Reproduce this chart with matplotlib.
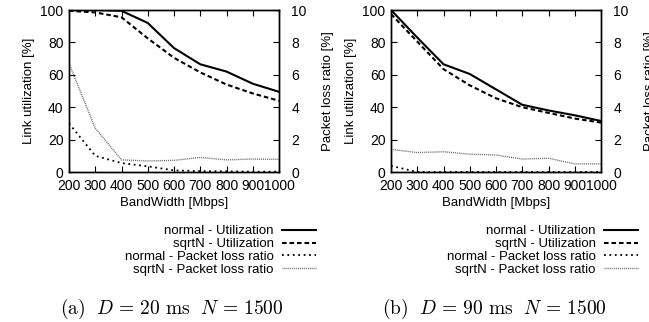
import numpy as np
import matplotlib.pyplot as plt

plt.rcParams['font.family'] = ['Liberation Sans', 'DejaVu Sans']
plt.rcParams['mathtext.fontset'] = 'cm'

bandwidth = [200, 300, 400, 500, 600, 700, 800, 900, 1000]

# (a) D = 20 ms
util_normal_a = [100, 100, 99.5, 92, 76.5, 66.5, 62, 54.5, 49.5]
util_sqrtn_a = [99.5, 98.5, 95.5, 82.5, 70.5, 61.5, 54, 48.5, 44]
loss_normal_a = [3.0, 1.0, 0.55, 0.35, 0.1, 0.05, 0.04, 0.02, 0.02]
loss_sqrtn_a = [6.7, 2.7, 0.75, 0.68, 0.72, 0.9, 0.75, 0.8, 0.78]

# (b) D = 90 ms
util_normal_b = [100, 83, 66.5, 60.5, 51, 41.5, 38, 35, 31.5]
util_sqrtn_b = [97.5, 80.5, 63.5, 53.5, 45.5, 40, 36.5, 33, 30.5]
loss_normal_b = [0.38, 0.0, 0.0, 0.0, 0.0, 0.0, 0.0, 0.0, 0.0]
loss_sqrtn_b = [1.4, 1.2, 1.25, 1.1, 1.05, 0.8, 0.85, 0.5, 0.5]

captions = [r'$\mathrm{(a)}\ \ D\,=\,20\ \mathrm{ms}\ \ N\,=\,1500$',
            r'$\mathrm{(b)}\ \ D\,=\,90\ \mathrm{ms}\ \ N\,=\,1500$']
labels = ['normal - Utilization', 'sqrtN - Utilization',
          'normal - Packet loss ratio', 'sqrtN - Packet loss ratio']

fs = 9.5
W, H = 649, 322
fig = plt.figure(figsize=(W / 100, H / 100), dpi=100)


def panel(left_px, util_n, util_s, loss_n, loss_s, caption):
    ax = fig.add_axes([left_px / W, 1 - 172 / H, 210 / W, 162 / H])
    ax2 = ax.twinx()
    l1, = ax.plot(bandwidth, util_n, color='black', lw=1.5, ls='-')
    l2, = ax.plot(bandwidth, util_s, color='black', lw=1.5, ls=(0, (2.2, 1.4)))
    l3, = ax2.plot(bandwidth, loss_n, color='black', lw=1.3, ls=(0, (1, 2)))
    l4, = ax2.plot(bandwidth, loss_s, color='#666666', lw=1.0, ls=(0, (0.7, 0.7)))
    ax.set_xlim(200, 1000)
    ax.set_ylim(0, 100)
    ax2.set_ylim(0, 10)
    ax.set_xticks(bandwidth)
    ax.set_yticks(range(0, 101, 20))
    ax2.set_yticks(range(0, 11, 2))
    ax.tick_params(axis='x', direction='in', labelsize=10, length=4, width=0.8,
                   top=True, pad=5)
    ax.tick_params(axis='y', direction='in', labelsize=10, length=4, width=0.8,
                   pad=4)
    ax2.tick_params(direction='in', labelsize=10, length=4, width=0.8, pad=9)
    for a in (ax, ax2):
        for s in a.spines.values():
            s.set_linewidth(1.0)
    ax.set_xlabel('BandWidth [Mbps]', fontsize=fs, labelpad=3)
    ax.set_ylabel('Link utilization [%]', fontsize=fs, labelpad=4)
    ax2.set_ylabel('Packet loss ratio [%]', fontsize=fs, labelpad=11)
    fig.legend([l1, l2, l3, l4], labels, loc='upper right',
               bbox_to_anchor=((left_px + 247) / W, 1 - 225 / H),
               fontsize=fs, frameon=False, markerfirst=False,
               handlelength=2.6, handletextpad=0.6, labelspacing=0.05,
               borderpad=0, borderaxespad=0)
    fig.text((left_px + 103) / W, 1 - 309 / H, caption, fontsize=14,
             ha='center', va='center')


panel(69, util_normal_a, util_sqrtn_a, loss_normal_a, loss_sqrtn_a, captions[0])
panel(391, util_normal_b, util_sqrtn_b, loss_normal_b, loss_sqrtn_b, captions[1])

fig.savefig('out.png', dpi=100)
